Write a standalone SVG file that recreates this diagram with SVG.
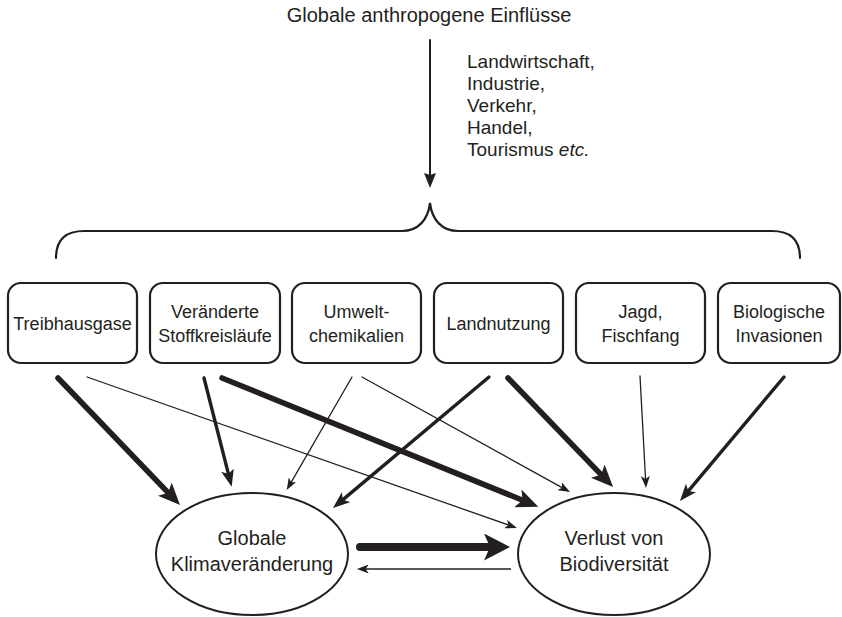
<svg xmlns="http://www.w3.org/2000/svg" width="842" height="617" viewBox="0 0 842 617">
<style>
text{font-family:"Liberation Sans",Arial,sans-serif;fill:#231f20;text-anchor:middle}
.box{fill:#fff;stroke:#231f20;stroke-width:2.2}
.ell{fill:#fff;stroke:#231f20;stroke-width:2}
.bt{font-size:18px}
.et{font-size:20px}
.dt{font-size:19px;text-anchor:start}
.c{fill:none;stroke:#231f20;stroke-linecap:round}
.s{stroke-width:1.3;marker-end:url(#ms)}
.m{stroke-width:3.4;marker-end:url(#mm)}
.l{stroke-width:5.6;marker-end:url(#ml)}
.x{stroke-width:8;marker-end:url(#mx)}
</style>
<defs>
<marker id="ms" markerUnits="userSpaceOnUse" viewBox="0 0 12 9" markerWidth="12" markerHeight="9" refX="6" refY="4.5" orient="auto"><path d="M0,0L12,4.5L0,9L3,4.5z" fill="#231f20"/></marker>
<marker id="mm" markerUnits="userSpaceOnUse" viewBox="0 0 17 13" markerWidth="17" markerHeight="13" refX="9" refY="6.5" orient="auto"><path d="M0,0L17,6.5L0,13L4,6.5z" fill="#231f20"/></marker>
<marker id="ml" markerUnits="userSpaceOnUse" viewBox="0 0 22 19" markerWidth="22" markerHeight="19" refX="11" refY="9.5" orient="auto"><path d="M0,0L22,9.5L0,19L5,9.5z" fill="#231f20"/></marker>
<marker id="mx" markerUnits="userSpaceOnUse" viewBox="0 0 26 27" markerWidth="26" markerHeight="27" refX="12" refY="13.5" orient="auto"><path d="M0,0L26,13.5L0,27L6,13.5z" fill="#231f20"/></marker>
<marker id="mt" markerUnits="userSpaceOnUse" viewBox="0 0 15 12" markerWidth="15" markerHeight="12" refX="8" refY="6" orient="auto"><path d="M0,0L15,6L0,12L2,6z" fill="#231f20"/></marker>
</defs>

<g id="title">
<text x="429" y="22" style="font-size:20px">Globale anthropogene Einflüsse</text>
</g>
<g id="drivers">
<text class="dt" x="467" y="68">Landwirtschaft,</text>
<text class="dt" x="467" y="90">Industrie,</text>
<text class="dt" x="467" y="112">Verkehr,</text>
<text class="dt" x="467" y="134">Handel,</text>
<text class="dt" x="467" y="156">Tourismus <tspan font-style="italic">etc.</tspan></text>
</g>
<g id="brace">
<path class="c" style="stroke-width:2.2" d="M56,258C56,240 66,231 84,231L402,231C418,231 428,220 430,203C432,220 442,231 458,231L772,231C790,231 800,240 800,258"/>
</g>

<g id="n-treibhausgase"><rect class="box" x="8" y="283" width="129" height="80" rx="13"/><text class="bt" x="72.5" y="330">Treibhausgase</text></g>
<g id="n-stoffkreislaeufe"><rect class="box" x="150" y="283" width="130" height="80" rx="13"/><text class="bt" x="215" y="318">Veränderte</text><text class="bt" x="215" y="341.5">Stoffkreisläufe</text></g>
<g id="n-umweltchemikalien"><rect class="box" x="292" y="283" width="129" height="80" rx="13"/><text class="bt" x="356.5" y="318">Umwelt-</text><text class="bt" x="356.5" y="341.5">chemikalien</text></g>
<g id="n-landnutzung"><rect class="box" x="434" y="283" width="129" height="80" rx="13"/><text class="bt" x="498.5" y="330">Landnutzung</text></g>
<g id="n-jagd"><rect class="box" x="576" y="283" width="129" height="80" rx="13"/><text class="bt" x="640.5" y="318">Jagd,</text><text class="bt" x="640.5" y="341.5">Fischfang</text></g>
<g id="n-invasionen"><rect class="box" x="718" y="283" width="122" height="80" rx="13"/><text class="bt" x="779" y="318">Biologische</text><text class="bt" x="779" y="341.5">Invasionen</text></g>

<g id="n-klima"><ellipse class="ell" cx="252" cy="554" rx="96" ry="61"/><text class="et" x="252" y="545">Globale</text><text class="et" x="252" y="571">Klimaveränderung</text></g>
<g id="n-biodiv"><ellipse class="ell" cx="614" cy="554" rx="96" ry="61"/><text class="et" x="614" y="545">Verlust von</text><text class="et" x="614" y="571">Biodiversität</text></g>

<g id="connectors">
<line class="c" style="stroke-width:2;marker-end:url(#mt)" x1="430" y1="40" x2="430" y2="181"/>
<line class="c l" x1="58" y1="378" x2="172.4" y2="497.1"/>
<line class="c s" x1="87" y1="377" x2="511.3" y2="526"/>
<line class="c m" x1="204" y1="378" x2="229.7" y2="478.9"/>
<line class="c l" x1="222" y1="378" x2="528.1" y2="502.5"/>
<line class="c s" x1="352" y1="377" x2="289.7" y2="484.8"/>
<line class="c s" x1="362" y1="377" x2="564.8" y2="489.1"/>
<line class="c m" x1="489" y1="377" x2="339.1" y2="502.9"/>
<line class="c l" x1="508" y1="378" x2="605.4" y2="479.1"/>
<line class="c s" x1="640" y1="376" x2="645.7" y2="482"/>
<line class="c m" x1="784" y1="377" x2="685.1" y2="494.9"/>
<line class="c x" x1="360" y1="547" x2="496" y2="547"/>
<line class="c s" style="stroke-linecap:butt" x1="511" y1="569" x2="362.7" y2="569"/>
</g>
</svg>
